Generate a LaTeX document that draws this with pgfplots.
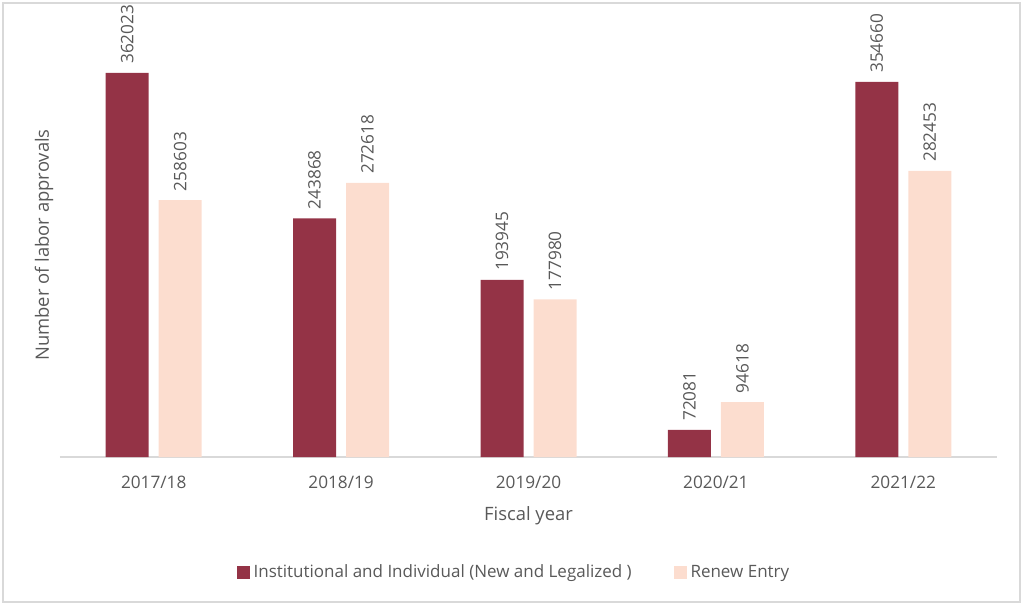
\documentclass[border=0pt]{standalone}
\usepackage{pgfplots}
\pgfplotsset{compat=1.18}
\usepackage{fontspec}
\setmainfont{Open Sans}
\definecolor{darkred}{HTML}{943346}
\definecolor{peach}{HTML}{FCDDCF}
\definecolor{txt}{HTML}{595959}
\definecolor{axl}{HTML}{D9D9D9}
\begin{document}
\begin{tikzpicture}
\useasboundingbox (0,0) rectangle (512pt,-303pt);
\draw[color=axl,line width=0.8pt] (1.5pt,-1.5pt) rectangle (510pt,-301pt);
\node[rotate=90, font=\fontsize{9.2pt}{11pt}\selectfont, text=txt] at (22pt,-122.5pt) {Number of labor approvals};
\begin{axis}[
  at={(30pt,-228.5pt)}, anchor=south west,
  scale only axis, width=468.5pt, height=215.5pt,
  xmin=-0.5, xmax=4.5, ymin=50000, ymax=400000,
  ybar=5pt, bar width=21.5pt,
  axis x line*=bottom, axis y line=none,
  x axis line style={color=axl, line width=0.6pt, -},
  xtick={0,1,2,3,4}, xticklabels={2017/18,2018/19,2019/20,2020/21,2021/22},
  major tick length=0pt,
  xticklabel style={font=\fontsize{8.6pt}{10pt}\selectfont, text=txt, yshift=-6pt},
  xlabel={Fiscal year}, xlabel style={font=\fontsize{9.2pt}{11pt}\selectfont, text=txt, yshift=-2pt},
  /pgf/number format/fixed, /pgf/number format/precision=0,
  /pgf/number format/1000 sep={}, /pgf/number format/assume math mode=true,
  nodes near coords,
  every node near coord/.append style={font=\fontsize{8.6pt}{10pt}\selectfont, text=txt, rotate=90, anchor=west, xshift=1pt},
  legend style={at={(0.4856,-0.268)}, anchor=center, draw=none, legend columns=2,
     font=\fontsize{8.5pt}{10pt}\selectfont, text=txt,
     /tikz/every even column/.append style={column sep=19pt}},
  legend image code/.code={\fill[#1] (0pt,-3.2pt) rectangle (6.4pt,3.2pt);},
]
\addplot[fill=darkred, draw=none]
  coordinates {(0,362023) (1,243868) (2,193945) (3,72081) (4,354660)};
\addlegendentry{Institutional and Individual (New and Legalized )}
\addplot[fill=peach, draw=none]
  coordinates {(0,258603) (1,272618) (2,177980) (3,94618) (4,282453)};
\addlegendentry{Renew Entry}
\end{axis}
\end{tikzpicture}
\end{document}
